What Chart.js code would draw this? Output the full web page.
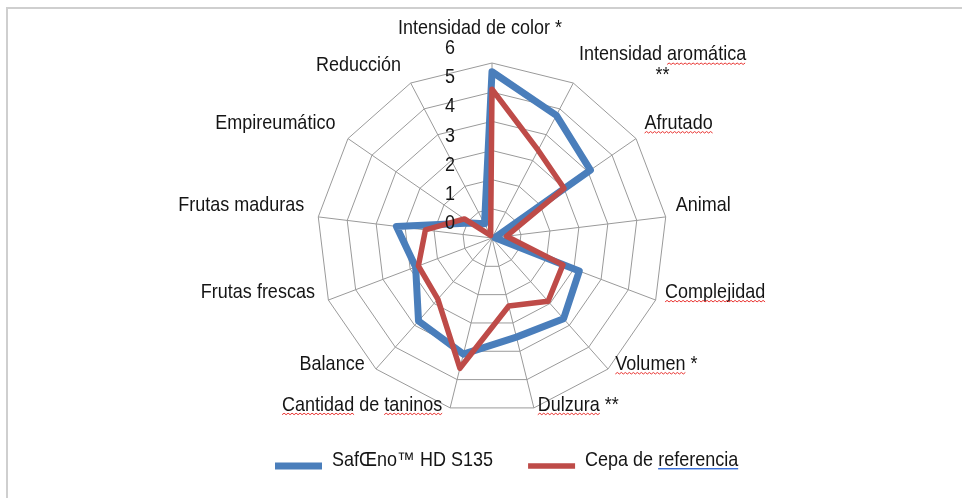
<!DOCTYPE html>
<html>
<head>
<meta charset="utf-8">
<script src="https://cdn.jsdelivr.net/npm/chart.js@4.4.0/dist/chart.umd.min.js"></script>
<style>
  html, body { margin: 0; padding: 0; background: #fff; }
  #wrap { position: relative; width: 962px; height: 498px; }
  #frame { position: absolute; left: 6px; top: 7px; right: 0; bottom: 0;
           border-top: 2px solid #cfcfcf; border-left: 2px solid #cfcfcf; }
  canvas { position: absolute; left: 0; top: 0; }
</style>
</head>
<body>
<div id="wrap">
  <div id="frame"></div>
  <canvas id="myChart" width="962" height="498"></canvas>
</div>
<script>
    // axis names, clockwise from the top
    const categories = [
        "Intensidad de color *",
        ["Intensidad aromática", "**"],
        "Afrutado",
        "Animal",
        "Complejidad",
        "Volumen *",
        "Dulzura **",
        "Cantidad de taninos",
        "Balance",
        "Frutas frescas",
        "Frutas maduras",
        "Empireumático",
        "Reducción"
    ];

    // values (0 - 6 scale)
    const safoeno = [5.7, 4.75, 4.1, 0.1, 3.2, 3.7, 3.5, 4.1, 3.8, 2.8, 3.3, 0.9, 0.55];
    const cepa = [5.1, 3.4, 3.0, 0.5, 2.6, 2.9, 2.4, 4.6, 2.8, 2.7, 2.3, 1.15, 0.1];

    const tickValues = [0, 1, 2, 3, 4, 5, 6];
    const tickLabels = ["0", "1", "2", "3", "4", "5", "6"];

    const seriesNames = ["SafŒno™ HD S135", "Cepa de referencia"];

    // words the word processor flagged with a red squiggle in the original
    const flagged = ["aromática", "Afrutado", "Complejidad", "Volumen", "Dulzura", "Cantidad", "taninos"];

    const font = '"Liberation Sans", Arial, sans-serif';
    const textColor = '#151515';

    // text in the picture is a bit taller than plain Arial, stretch it a little
    function putText(ctx, text, x, y) {
        ctx.save();
        ctx.translate(x, y);
        ctx.scale(1, 1.1);
        ctx.fillText(text, 0, 0);
        ctx.restore();
    }

    function squiggle(ctx, x1, x2, y) {
        ctx.save();
        ctx.strokeStyle = '#e8322f';
        ctx.lineWidth = 1;
        ctx.beginPath();
        ctx.moveTo(x1, y);
        let up = true;
        for (let x = x1 + 2; x <= x2; x += 2) {
            ctx.lineTo(x, up ? y - 1.5 : y);
            up = !up;
        }
        ctx.stroke();
        ctx.restore();
    }

    // draws one line of text starting at left, baseline y, squiggles under flagged words
    function textLine(ctx, text, left, y) {
        putText(ctx, text, left, y);
        let pos = 0;
        text.split(' ').forEach(word => {
            const start = ctx.measureText(text.substring(0, pos)).width;
            const w = ctx.measureText(word).width;
            if (flagged.includes(word)) {
                squiggle(ctx, left + start, left + start + w, y + 4);
            }
            pos += word.length + 1;
        });
    }

    // ticks sit left of the vertical axis and above each ring, like Excel does it
    const tickPlugin = {
        id: 'excelTicks',
        afterDraw(chart) {
            const r = chart.scales.r;
            const ctx = chart.ctx;
            ctx.save();
            ctx.font = '18px ' + font;
            ctx.fillStyle = textColor;
            ctx.textAlign = 'center';
            ctx.textBaseline = 'alphabetic';
            tickValues.forEach((v, i) => {
                const d = r.getDistanceFromCenterForValue(v);
                putText(ctx, tickLabels[i], r.xCenter - 42, r.yCenter - d - 9);
            });
            ctx.restore();
        }
    };

    // axis labels placed around the outer ring with the scale's own point positions
    const labelPlugin = {
        id: 'excelPointLabels',
        afterDraw(chart) {
            const r = chart.scales.r;
            const ctx = chart.ctx;
            ctx.save();
            ctx.font = '18px ' + font;
            ctx.fillStyle = textColor;
            ctx.textAlign = 'left';
            ctx.textBaseline = 'alphabetic';
            const lineH = 21;
            categories.forEach((label, i) => {
                const lines = Array.isArray(label) ? label : [label];
                const p = r.getPointPosition(i, r.drawingArea + 8);
                const s = Math.sin(p.angle + Math.PI / 2);
                const widths = lines.map(t => ctx.measureText(t).width);
                const blockW = Math.max(...widths);
                let left, cy;
                if (Math.abs(s) < 0.05) {
                    left = p.x - blockW / 2 - 12;
                    cy = p.y - 28;
                } else {
                    left = s > 0 ? p.x + 2 : p.x - 6 - blockW;
                    cy = p.y - 12;
                }
                let y = cy - (lines.length - 1) * lineH / 2;
                lines.forEach((t, k) => {
                    const lx = left + (blockW - widths[k]) / 2;
                    textLine(ctx, t, lx, y + 7);
                    y += lineH;
                });
            });
            ctx.restore();
        }
    };

    // legend at the bottom: thick line sample then the series name
    const legendPlugin = {
        id: 'excelLegend',
        afterDraw(chart) {
            const ctx = chart.ctx;
            ctx.save();
            ctx.font = '18px ' + font;
            ctx.textAlign = 'left';
            ctx.textBaseline = 'alphabetic';
            let x = 275;
            const y = 466;
            chart.data.datasets.forEach(ds => {
                ctx.fillStyle = ds.borderColor;
                const h = ds.borderWidth;
                ctx.fillRect(x, 466 - h / 2, 47, h);
                x += 47 + 10;
                ctx.fillStyle = textColor;
                putText(ctx, ds.label, x, y);
                const w = ctx.measureText(ds.label).width;
                if (ds.label.indexOf('referencia') >= 0) {
                    const s = ctx.measureText('Cepa de ').width;
                    ctx.fillStyle = '#3b6fd8';
                    ctx.fillRect(x + s, y + 2, w - s, 1);
                    ctx.fillStyle = '#a9c1ee';
                    ctx.fillRect(x + s, y + 3, w - s, 1);
                }
                x += w + 35;
            });
            ctx.restore();
        }
    };

    const ctx = document.getElementById('myChart');
    const myChart = new Chart(ctx, {
        type: 'radar',
        data: {
            labels: categories,
            datasets: [{
                label: seriesNames[0],
                data: safoeno,
                borderColor: '#4A7EBB',
                backgroundColor: '#4A7EBB',
                borderWidth: 7,
                fill: false,
                pointRadius: 0,
                order: 1
            }, {
                label: seriesNames[1],
                data: cepa,
                borderColor: '#BE4B48',
                backgroundColor: '#BE4B48',
                borderWidth: 5.5,
                fill: false,
                pointRadius: 0,
                order: 0
            }]
        },
        options: {
            responsive: false,
            animation: false,
            layout: { padding: { left: 22, right: 0, top: 63, bottom: 85 } },
            elements: { line: { tension: 0, borderJoinStyle: 'round' } },
            scales: {
                r: {
                    min: 0,
                    max: 6,
                    ticks: { stepSize: 1, display: false },
                    grid: { color: '#9a9a9a', lineWidth: 1 },
                    angleLines: { color: '#9a9a9a', lineWidth: 1 },
                    pointLabels: { display: false }
                }
            },
            plugins: {
                tooltip: { enabled: false },
                legend: { display: false }
            }
        },
        plugins: [tickPlugin, labelPlugin, legendPlugin]
    });
</script>
</body>
</html>
